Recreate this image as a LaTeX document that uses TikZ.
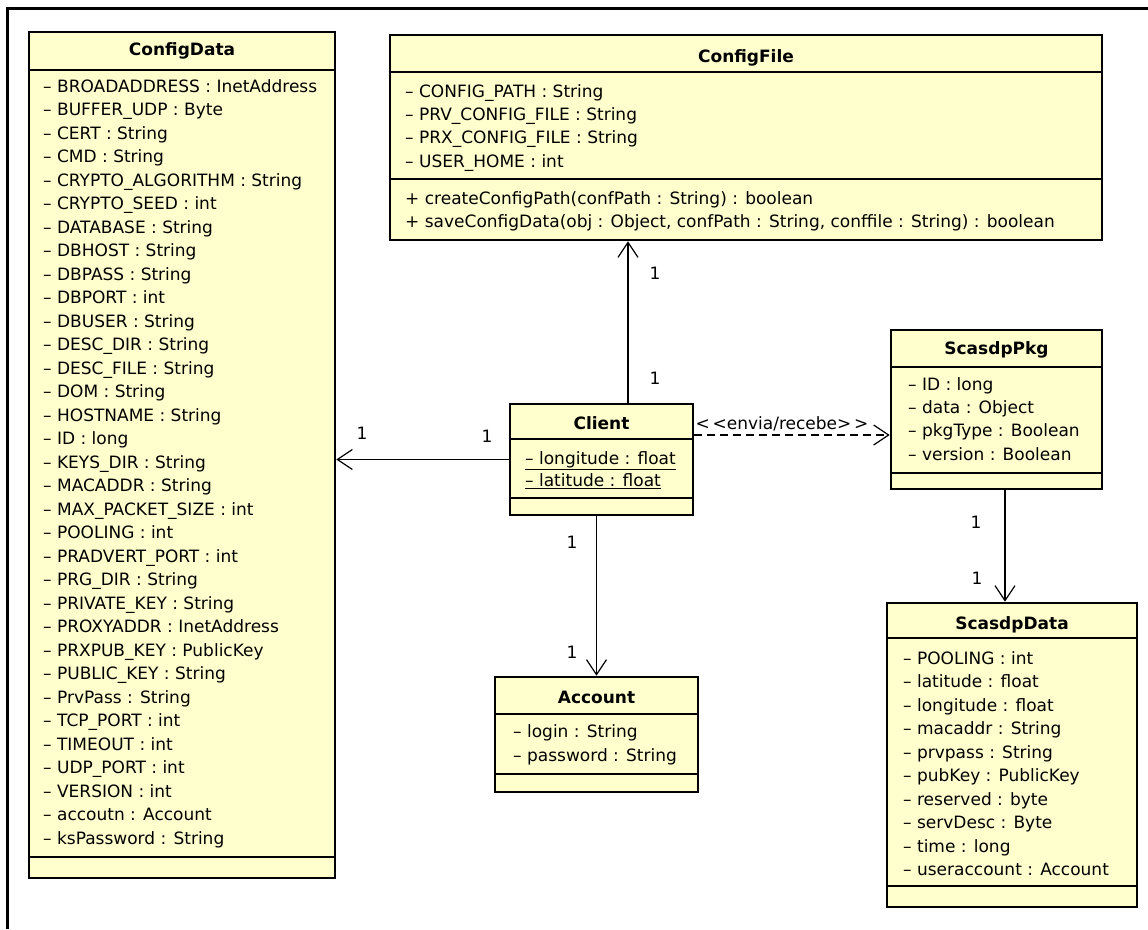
\documentclass[tikz,border=0pt]{standalone}
\usepackage{fontspec}
\setmainfont{DejaVu Sans}
\usetikzlibrary{arrows.meta}
\definecolor{classfill}{RGB}{255,255,206}

\begin{document}
\begin{tikzpicture}[x=1pt, y=-1pt,
	classbox/.style={draw=black, line width=2.6pt, fill=classfill, inner sep=0pt},
	sep/.style={line width=1.2pt},
	title/.style={font=\fontsize{17}{20}\selectfont\bfseries, inner sep=0pt},
	attr/.style={anchor=west, font=\fontsize{17}{20}\selectfont, inner sep=0pt, text height=12pt, text depth=3.5pt},
	mult/.style={font=\fontsize{17}{20}\selectfont, inner sep=0pt},
	assoc/.style={line width=1.2pt, -{Straight Barb[length=15pt, width=20pt, line width=1.2pt]}}]

	\useasboundingbox (0,0) rectangle (1148,929);

	%Frame
	\draw[line width=3pt] (7,929) -- (7,8) -- (1148,8);

	%ConfigData
	\node[classbox, minimum width=306pt, minimum height=846pt] (cfgdata) at (182,455) {};
	\draw[sep] (cfgdata.west |- 0,70) -- (cfgdata.east |- 0,70);
	\draw[sep] (cfgdata.west |- 0,857) -- (cfgdata.east |- 0,857);
	\node[title] (cfgdatatitle) at (cfgdata.north |- 0,51) {ConfigData};
	\foreach \a [count=\i from 0] in {BROADADDRESS : InetAddress, BUFFER\_UDP : Byte, CERT : String, CMD : String,
		CRYPTO\_ALGORITHM : String, CRYPTO\_SEED : int, DATABASE : String, DBHOST : String, DBPASS : String,
		DBPORT : int, DBUSER : String, DESC\_DIR : String, DESC\_FILE : String, DOM : String, HOSTNAME : String,
		ID : long, KEYS\_DIR : String, MACADDR : String, MAX\_PACKET\_SIZE : int, POOLING : int,
		PRADVERT\_PORT : int, PRG\_DIR : String, PRIVATE\_KEY : String, PROXYADDR : InetAddress,
		PRXPUB\_KEY : PublicKey, PUBLIC\_KEY : String, PrvPass : String, TCP\_PORT : int, TIMEOUT : int,
		UDP\_PORT : int, VERSION : int, accoutn : Account, ksPassword : String}
		\node[attr] (cfgdata-\i) at (43,{88+23.5*\i}) {-- \a};

	%ConfigFile
	\node[classbox, minimum width=712pt, minimum height=205pt] (cfgfile) at (746,137.5) {};
	\draw[sep] (cfgfile.west |- 0,72) -- (cfgfile.east |- 0,72);
	\draw[sep] (cfgfile.west |- 0,179) -- (cfgfile.east |- 0,179);
	\node[title] (cfgfiletitle) at (cfgfile.north |- 0,58) {ConfigFile};
	\foreach \a [count=\i from 0] in {CONFIG\_PATH : String, PRV\_CONFIG\_FILE : String, PRX\_CONFIG\_FILE : String, USER\_HOME : int}
		\node[attr] (cfgfile-\i) at (405,{93+23.3*\i}) {-- \a};
	\node[attr] (cfgfile-op1) at (405,200) {+ createConfigPath(confPath : String) : boolean};
	\node[attr] (cfgfile-op2) at (405,223) {+ saveConfigData(obj : Object, confPath : String, conffile : String) : boolean};

	%Client
	\node[classbox, minimum width=183pt, minimum height=111pt] (client) at (601.5,459.5) {};
	\draw[sep] (client.west |- 0,439) -- (client.east |- 0,439);
	\draw[sep] (client.west |- 0,498) -- (client.east |- 0,498);
	\node[title] (clienttitle) at (client.north |- 0,423) {Client};
	\node[attr] (client-0) at (525,460) {\underline{-- longitude : float}};
	\node[attr] (client-1) at (525,482) {\underline{-- latitude : float}};

	%ScasdpPkg
	\node[classbox, minimum width=211pt, minimum height=159pt] (pkg) at (996.5,409.5) {};
	\draw[sep] (pkg.west |- 0,367) -- (pkg.east |- 0,367);
	\draw[sep] (pkg.west |- 0,473) -- (pkg.east |- 0,473);
	\node[title] (pkgtitle) at (pkg.north |- 0,350) {ScasdpPkg};
	\foreach \a [count=\i from 0] in {ID : long, data : Object, pkgType : Boolean, version : Boolean}
		\node[attr] (pkg-\i) at (908,{386+23.3*\i}) {-- \a};

	%ScasdpData
	\node[classbox, minimum width=250pt, minimum height=304pt] (scdata) at (1012,755) {};
	\draw[sep] (scdata.west |- 0,638) -- (scdata.east |- 0,638);
	\draw[sep] (scdata.west |- 0,886) -- (scdata.east |- 0,886);
	\node[title] (scdatatitle) at (scdata.north |- 0,625) {ScasdpData};
	\foreach \a [count=\i from 0] in {POOLING : int, latitude : float, longitude : float, macaddr : String,
		prvpass : String, pubKey : PublicKey, reserved : byte, servDesc : Byte, time : long, useraccount : Account}
		\node[attr] (scdata-\i) at (903,{660+23.5*\i}) {-- \a};

	%Account
	\node[classbox, minimum width=203pt, minimum height=115pt] (account) at (596.5,734.5) {};
	\draw[sep] (account.west |- 0,714) -- (account.east |- 0,714);
	\draw[sep] (account.west |- 0,774) -- (account.east |- 0,774);
	\node[title] (accounttitle) at (account.north |- 0,697) {Account};
	\node[attr] (account-0) at (513,733) {-- login : String};
	\node[attr] (account-1) at (513,757) {-- password : String};

	%Associations
	\draw[assoc] (client.west) -- (client.west -| cfgdata.east);
	\node[mult] (m-cfgdata) at (362,433) {1};
	\node[mult] (m-client-w) at (487,436) {1};

	\draw[assoc] ([xshift=26.5pt]client.north) -- ([xshift=26.5pt]client.north |- cfgfile.south);
	\node[mult] (m-cfgfile) at (655,273) {1};
	\node[mult] (m-client-n) at (655,378) {1};

	\draw[assoc] (account.north |- client.south) -- (account.north);
	\node[mult] (m-client-s) at (572,542) {1};
	\node[mult] (m-account) at (572,652) {1};

	\draw[assoc] ([xshift=8.5pt]pkg.south) -- ([xshift=8.5pt]pkg.south |- scdata.north);
	\node[mult] (m-pkg) at (976,522) {1};
	\node[mult] (m-scdata) at (977,578) {1};

	%Dependency
	\draw[assoc, dash pattern=on 8pt off 5pt] ([yshift=24.5pt]client.east) -- ([yshift=24.5pt]client.east -| pkg.west);
	\node[mult] (envia) at (782,424) {<\,<envia/recebe>\,>};

\end{tikzpicture}
\end{document}
